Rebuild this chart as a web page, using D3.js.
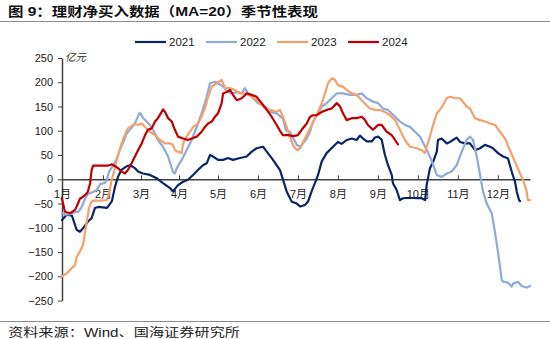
<!DOCTYPE html>
<html><head><meta charset="utf-8">
<script src="https://cdn.jsdelivr.net/npm/d3@7"></script>
<style>body{margin:0;background:#fff}svg{display:block}</style>
</head><body>
<script>
// ---------- data ----------
const titleText = "图 9：理财净买入数据（MA=20）季节性表现";
const sourceText = "资料来源：Wind、国海证券研究所";
const unitText = "亿元";
const monthLabels = ["1月","2月","3月","4月","5月","6月","7月","8月","9月","10月","11月","12月"];
const monthTickDays = [0,21,40.5,60,80,100.5,121,141.5,162,182.5,203,223.5];
const yTicks = [-250,-200,-150,-100,-50,0,50,100,150,200,250];
const seriesNames = ["2021","2022","2023","2024"];

// [trading-day index, value (亿元)]
const s2021 = [[0,-84],[2.4,-73],[5.1,-75],[7.5,-104],[9.2,-108],[10.8,-101],[13.3,-87],[15.2,-80],[16.9,-59],[18.5,-57],[21,-58],[23.1,-59],[25.6,-45],[27.2,-15],[28.7,5],[30.6,20],[33.3,27],[34.9,29],[37.4,23],[39,16],[41.5,12],[45.1,9],[48.6,2],[51.8,-8],[55.4,-18],[56.9,-25],[59.5,-12],[62.1,-5],[64.6,-1],[67.2,9],[69.7,19],[72.3,29],[74.2,33],[75.9,50],[77.4,47],[80,40],[82.6,40],[85.1,44],[87.7,40],[91.3,44],[94.7,47],[97.3,57],[99.8,64],[103.1,67],[105.6,54],[108.2,40],[111.8,19],[113.3,0],[115.2,-25],[117.8,-46],[120.4,-50],[122.1,-56],[124.6,-53],[126.2,-46],[128,-25],[129.7,-8],[131.3,9],[133.2,37],[135.7,54],[139,67],[141.5,77],[143.4,73],[146,81],[148.6,84],[151.1,81],[152.8,90],[154.4,84],[156.3,78],[158.8,78],[160.5,86],[162.1,88],[163.9,82],[165.6,50],[167.2,29],[169.1,9],[169.7,-8],[171.6,-22],[173.3,-43],[174.9,-39],[178.5,-38],[181.9,-39],[184.5,-39],[186.2,-43],[187,-12],[188.7,23],[190.3,36],[192.2,57],[192.8,81],[194.7,84],[197.3,74],[199,77],[200.5,81],[202.4,86],[204.1,77],[206.7,74],[209.2,74],[211.8,60],[214.4,64],[216.9,71],[219.5,67],[221,64],[223.6,54],[226.2,47],[228.7,43],[230.6,16],[232.3,-5],[233.2,-25],[234.4,-43],[234.9,-45]];
const s2022 = [[0,-70],[2.1,-73],[4.1,-72],[6.7,-68],[8.7,-66],[10.3,-55],[11.8,-40],[13.3,-30],[15.4,-27],[17.9,-22],[19.5,-10],[22.1,-7],[23.1,0],[24.1,15],[25.6,25],[27.2,35],[28.7,48],[29.7,62],[31.3,75],[33.3,95],[35.4,105],[36.9,112],[38.5,125],[39.5,135],[40,137],[41.5,127],[43.4,119],[45.1,112],[47.7,95],[49.2,81],[51.8,67],[54.4,47],[55.9,28],[56.9,15],[57.9,12],[59,24],[61.4,40],[63.9,60],[66.5,81],[69.1,108],[71.6,136],[74.2,170],[75.9,198],[78.5,201],[80,198],[82.6,191],[85.1,180],[87.7,177],[90.3,180],[92.2,177],[93.8,188],[95.4,177],[97.3,170],[100.5,157],[104.1,150],[106.7,139],[110.1,136],[113.3,125],[114.9,100],[116.9,98],[118.5,85],[120.4,71],[122.1,67],[123.6,74],[125.5,84],[127.2,98],[128.7,119],[131.3,136],[133.2,150],[135.7,157],[138.3,167],[140.9,177],[144.1,177],[147.7,174],[151.1,174],[153.7,177],[156.3,167],[159.5,160],[162.1,157],[164.6,146],[167.2,143],[170.8,129],[173.3,119],[175.9,112],[178.5,108],[181,98],[183.6,88],[186.2,67],[187.7,55],[189.6,38],[192.2,9],[194.7,5],[197.3,12],[199.8,16],[202.4,29],[205,57],[207.5,81],[209.2,88],[210.8,81],[212.7,47],[214.4,9],[215.9,-25],[217.8,-50],[220.4,-70],[222.1,-111],[223.7,-153],[224.6,-180],[225.5,-208],[226.3,-211],[228.7,-213],[230.6,-221],[231.3,-215],[233.8,-211],[235.7,-220],[238.3,-223],[240,-220]];
const s2023 = [[0,-200],[2.4,-194],[5,-183],[6.7,-177],[7.5,-160],[9.2,-149],[10.8,-135],[11.8,-110],[12.8,-85],[13.8,-60],[14.9,-48],[15.9,-44],[19.5,-44],[22.9,-43],[24.1,-30],[25.5,-1],[27.2,23],[28.1,40],[28.7,50],[29.7,62],[31.3,82],[33.2,100],[33.8,105],[35.7,110],[37.4,114],[39,112],[40.9,115],[42.6,108],[45.1,98],[47.7,91],[50.3,81],[52.8,74],[55.4,74],[56.9,71],[57.9,60],[59.5,57],[61.4,54],[62.1,74],[63.9,88],[65.6,98],[67.2,108],[69.7,115],[71.6,129],[73.3,146],[74.9,170],[76.8,191],[79.3,198],[81.9,205],[83.6,188],[86.2,188],[88.7,184],[91.3,177],[94.7,177],[97.3,170],[99.8,163],[103.1,150],[106.7,143],[110.1,139],[111.8,143],[113.3,129],[115.2,108],[116.9,88],[118.5,70],[120.4,60],[122.1,64],[123.6,77],[125.5,91],[127.2,105],[129.7,126],[131.3,139],[133.2,157],[134.9,177],[136.4,198],[138.3,208],[140,205],[141.5,194],[144.1,191],[146,184],[148.6,177],[151.1,174],[154.4,160],[157.9,146],[160.5,143],[163.1,143],[165.6,139],[168.2,132],[170.8,122],[173.3,102],[175.9,81],[178.5,67],[181.9,64],[184.5,60],[186.2,54],[187,67],[188.7,88],[190.3,112],[192.2,136],[193.8,143],[195.4,153],[197.3,167],[199,170],[201.5,167],[204.1,167],[205.6,160],[207.5,150],[209.2,146],[211.8,126],[214.4,122],[216.9,119],[219.5,115],[222.1,112],[224.6,98],[227.2,84],[229.7,60],[232.3,36],[234.9,12],[236.4,-1],[238.3,-25],[238.9,-43],[240,-43]];
const s2024 = [[0,-40],[1.5,-67],[4.1,-70],[6.7,-63],[8.2,-50],[9.2,-40],[10.8,-36],[12.7,-29],[13.3,-25],[14.4,-8],[15.2,19],[15.9,28],[23.6,28],[25.5,31],[27.2,27],[28.7,23],[30.6,16],[32.3,12],[33.8,19],[35.7,33],[37.4,47],[39,60],[40.9,74],[42.6,91],[44.1,102],[46,105],[47.7,119],[49.2,126],[51.1,139],[51.8,144],[52.8,139],[54.4,126],[56.3,119],[57.9,102],[59.5,88],[62.1,84],[64.6,81],[66.5,84],[69.1,88],[71.6,98],[73.3,108],[74.9,115],[76.8,119],[78.5,129],[80,136],[81.9,157],[82.6,177],[84.5,180],[86.2,184],[87.7,174],[89.6,163],[92.2,167],[94.7,177],[97.3,174],[99.8,170],[102.4,157],[105,143],[107.5,129],[110.1,112],[111.8,100],[113.3,91],[115.9,91],[118.5,89],[121,91],[122.9,102],[125.5,115],[127.2,129],[128.7,132],[130.6,132],[133.2,139],[135.7,143],[138.3,146],[140.9,157],[142.6,150],[144.1,136],[146,122],[148.6,126],[151.1,126],[153.7,129],[155.4,122],[156.9,112],[159.5,102],[162.1,112],[163.9,112],[166.5,98],[169.1,91],[170.8,81],[172.3,72]];
const seriesData = [s2021, s2022, s2023, s2024];

// ---------- drawing ----------
const W = 550, H = 339;
const colors = ["#0A2468", "#8EA9DB", "#F4A06C", "#C00000"];
const cjk = "'Liberation Sans', Arial, 'Noto Sans CJK SC', sans-serif";

const svg = d3.select("body").append("svg").attr("width", W).attr("height", H)
  .style("font-family", cjk);

svg.append("text").attr("x", 8).attr("y", 16)
  .attr("font-size", 13).attr("font-weight", "bold").attr("fill", "#111")
  .attr("textLength", 310).attr("lengthAdjust", "spacingAndGlyphs")
  .text(titleText);
svg.append("line").attr("x1", 0).attr("x2", W).attr("y1", 21.5).attr("y2", 21.5)
  .attr("stroke", "#8c8c8c").attr("stroke-width", 1.2);
svg.append("line").attr("x1", 0).attr("x2", W).attr("y1", 321.5).attr("y2", 321.5)
  .attr("stroke", "#8c8c8c").attr("stroke-width", 1.2);
svg.append("text").attr("x", 8).attr("y", 337)
  .attr("font-size", 12).attr("fill", "#222")
  .attr("textLength", 232).attr("lengthAdjust", "spacingAndGlyphs")
  .text(sourceText);

const x = d3.scaleLinear().domain([0, 240]).range([62, 530]);
const y = d3.scaleLinear().domain([-250, 250]).range([300.6, 58]);

// y axis
const yAxis = svg.append("g").attr("transform", `translate(${x(0)},0)`)
  .call(d3.axisLeft(y).tickValues(yTicks).tickSize(4).tickPadding(5).tickSizeOuter(0));
yAxis.select(".domain").attr("stroke", "#404040").attr("stroke-width", 1.5);
yAxis.selectAll(".tick line").attr("stroke", "#404040");
yAxis.selectAll(".tick text").attr("font-size", 11).attr("fill", "#222")
  .style("font-family", cjk);

svg.append("text").attr("x", 65).attr("y", 61)
  .attr("font-size", 10.5).attr("font-style", "italic").attr("fill", "#333")
  .text(unitText);

// x axis at y = 0
const xAxis = svg.append("g").attr("transform", `translate(0,${y(0)})`)
  .call(d3.axisBottom(x).tickValues(monthTickDays)
    .tickFormat((d, i) => monthLabels[i])
    .tickSizeInner(-4).tickSizeOuter(0).tickPadding(11));
xAxis.select(".domain").attr("stroke", "#404040").attr("stroke-width", 1.5);
xAxis.selectAll(".tick line").attr("stroke", "#404040");
xAxis.selectAll(".tick text").attr("font-size", 11).attr("fill", "#222")
  .style("font-family", cjk);

// series lines
const line = d3.line().x(d => x(d[0])).y(d => y(d[1]));
seriesData.forEach((s, i) => {
  svg.append("path").datum(s).attr("d", line)
    .attr("fill", "none").attr("stroke", colors[i])
    .attr("stroke-width", 2.2).attr("stroke-linejoin", "round").attr("stroke-linecap", "round");
});

// legend
const lg = svg.append("g").attr("transform", "translate(135,42)");
seriesNames.forEach((n, i) => {
  const g = lg.append("g").attr("transform", `translate(${i * 71},0)`);
  g.append("line").attr("x1", 0).attr("x2", 31).attr("y1", 0).attr("y2", 0)
    .attr("stroke", colors[i]).attr("stroke-width", 2.2);
  g.append("text").attr("x", 34).attr("y", 4.2).attr("font-size", 11.5)
    .attr("fill", "#222").text(n);
});
</script>
</body></html>
